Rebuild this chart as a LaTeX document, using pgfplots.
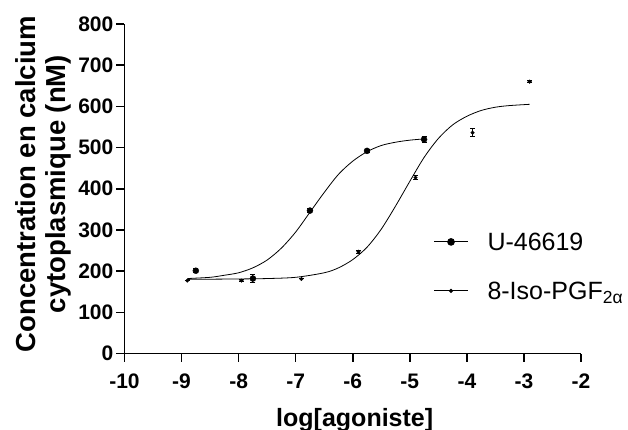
\documentclass[border=0pt]{standalone}
\usepackage{fontspec}
\setmainfont{Liberation Sans}
\usepackage{pgfplots}
\pgfplotsset{compat=1.18}

\begin{document}
\begin{tikzpicture}
\begin{axis}[
    scale only axis,
    width=456.5pt, height=329.5pt,
    xmin=-10, xmax=-2, ymin=0, ymax=800,
    xtick={-10,-9,-8,-7,-6,-5,-4,-3,-2},
    xticklabels={-10,-9,-8,-7,-6,-5,-4,-3,-2},
    ytick={0,100,200,300,400,500,600,700,800},
    yticklabels={0,100,200,300,400,500,600,700,800},
    axis lines=left,
    axis line style={-, line width=1.6pt},
    tick align=outside,
    major tick length=8pt,
    tick style={black, line width=1.5pt},
    every tick label/.append style={font=\fontsize{21}{24}\selectfont\bfseries, inner sep=0pt},
    xticklabel style={anchor=north, yshift=-12pt},
    yticklabel style={anchor=east, xshift=-3pt},
    every axis x label/.style={at={(axis description cs:0.5043,-0.2222)}, anchor=base,
        font=\bfseries\fontsize{25}{30}\selectfont, inner sep=0pt},
    every axis y label/.style={at={(axis description cs:-0.1172,0.514)}, rotate=90, anchor=south,
        align=center, font=\bfseries\fontsize{27.5}{30}\selectfont, inner sep=0pt},
    xlabel={log[agoniste]},
    ylabel={Concentration en calcium\\cytoplasmique (nM)},
    legend cell align=left,
    legend style={draw=none, fill=none, at={(axis description cs:0.6765,0.3666)}, anchor=north west,
        inner sep=0pt, row sep=31pt, column sep=19pt,
        font=\fontsize{25}{30}\selectfont,
        nodes={inner sep=0pt, text height=18pt, text depth=0pt}},
    legend image code/.code={\draw[mark repeat=2,mark phase=2,#1] plot coordinates {(0pt,0pt) (17pt,0pt) (34pt,0pt)};},
]
% legend entries
\addlegendimage{black, line width=1pt, mark=*, mark size=3.3pt}
\addlegendentry{U-46619}
\addlegendimage{black, line width=1pt, mark=*, mark size=1.5pt}
\addlegendentry{8-Iso-PGF\textsubscript{2α}}

% U-46619 data (mean +- error)
\addplot[forget plot, black, only marks, mark=*, mark size=3pt,
    error bars/.cd, y dir=both, y explicit,
    error bar style={line width=1pt},
    error mark options={rotate=90, mark size=2.5pt, line width=1pt}]
coordinates {
    (-8.75,201) +- (0,5)
    (-7.75,182) +- (0,10)
    (-6.75,347) +- (0,4)
    (-5.75,492) +- (0,4)
    (-4.75,520) +- (0,8)
};
% U-46619 fitted curve
\addplot[forget plot, black, line width=0.8pt, smooth] coordinates {
    (-8.9,182) (-8.5,185) (-8.25,190) (-8.0,196) (-7.75,208) (-7.5,227) (-7.25,256)
    (-7.0,295) (-6.75,343) (-6.5,391) (-6.25,435) (-6.0,467) (-5.75,490)
    (-5.5,505) (-5.25,513) (-5.0,518) (-4.75,521)
};

% 8-Iso-PGF2a data
\addplot[forget plot, black, only marks, mark=*, mark size=1.8pt,
    error bars/.cd, y dir=both, y explicit,
    error bar style={line width=1pt},
    error mark options={rotate=90, mark size=2.5pt, line width=1pt}]
coordinates {
    (-8.9,177) +- (0,0)
    (-7.95,177) +- (0,3)
    (-6.9,181) +- (0,0)
    (-5.9,247) +- (0,4)
    (-4.9,427) +- (0,5)
    (-3.9,536) +- (0,10)
    (-2.9,660) +- (0,3)
};
% 8-Iso-PGF2a fitted curve
\addplot[forget plot, black, line width=0.8pt, smooth] coordinates {
    (-8.9,180) (-8.0,181) (-7.5,182) (-7.0,185) (-6.5,196) (-6.25,208) (-6.0,228)
    (-5.75,258) (-5.5,302) (-5.25,358) (-5.0,418) (-4.75,476) (-4.5,522)
    (-4.25,555) (-4.0,576) (-3.75,590) (-3.5,598) (-3.25,602) (-2.9,605)
};
\end{axis}
\pgfresetboundingbox
\path (-124.5pt,-75.5pt) rectangle (503.5pt,353.5pt);
\end{tikzpicture}
\end{document}
